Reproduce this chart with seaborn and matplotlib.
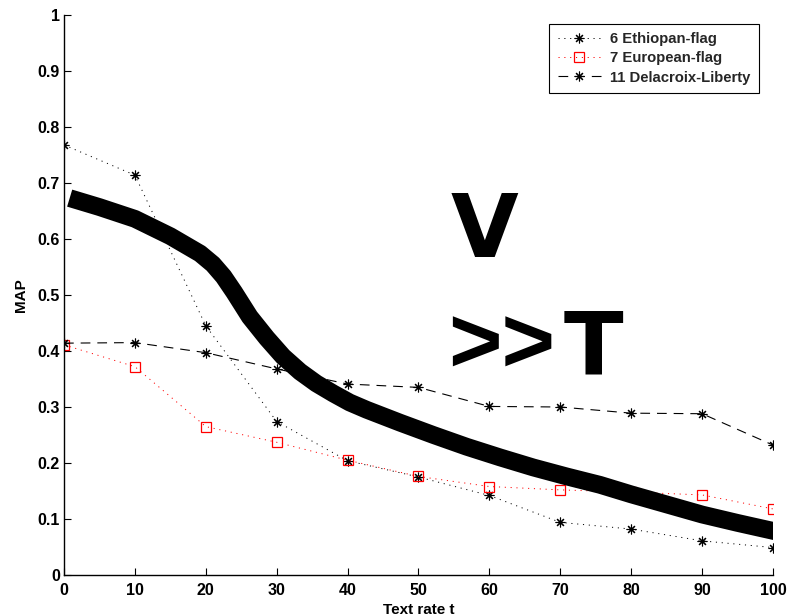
import matplotlib
matplotlib.use("Agg")
import matplotlib.pyplot as plt
import seaborn as sns

# Text rate values and MAP for each query image
text_rate = [0, 10, 20, 30, 40, 50, 60, 70, 80, 90, 100]
map_ethiopian = [0.768, 0.714, 0.445, 0.274, 0.204, 0.175, 0.142, 0.094, 0.082, 0.061, 0.049]
map_european = [0.411, 0.372, 0.265, 0.237, 0.205, 0.176, 0.158, 0.152, 0.148, 0.143, 0.118]
map_delacroix = [0.414, 0.415, 0.397, 0.368, 0.341, 0.335, 0.301, 0.300, 0.289, 0.288, 0.232]

series_labels = ["6 Ethiopan-flag", "7 European-flag", "11 Delacroix-Liberty"]

# Hand-drawn trend stroke
trend_x = [0.8, 5, 10, 15, 19.2, 21, 22.5, 24, 26.2, 28.6, 30.9, 33.3, 35.6, 38, 40.3, 42.7,
           47.4, 52.1, 56.8, 61.5, 66.2, 70.9, 75.6, 80, 85, 90, 95, 101]
trend_y = [0.673, 0.657, 0.636, 0.605, 0.574, 0.555, 0.533, 0.505, 0.461, 0.423, 0.390,
           0.363, 0.342, 0.324, 0.308, 0.295, 0.272, 0.250, 0.229, 0.210, 0.192, 0.176,
           0.161, 0.144, 0.126, 0.108, 0.093, 0.076]

x_ticks = [0, 10, 20, 30, 40, 50, 60, 70, 80, 90, 100]
y_ticks = [0, 0.1, 0.2, 0.3, 0.4, 0.5, 0.6, 0.7, 0.8, 0.9, 1.0]
y_tick_labels = ["0", "0.1", "0.2", "0.3", "0.4", "0.5", "0.6", "0.7", "0.8", "0.9", "1"]

sns.set_theme(style="ticks")
plt.rcParams["font.family"] = ["Liberation Sans", "DejaVu Sans"]
plt.rcParams["font.weight"] = "bold"
plt.rcParams["lines.scale_dashes"] = False

W, H = 789, 616
fig = plt.figure(figsize=(W / 100, H / 100), dpi=100)
ax = fig.add_axes([64 / W, 1 - 575 / H, 709 / W, 560 / H])

asterisk = (8, 2, 0)

sns.lineplot(x=text_rate, y=map_ethiopian, ax=ax, color="black", lw=0.7,
             linestyle=(0, (0.8, 3.4)), marker=asterisk, markersize=7,
             markeredgecolor="black", markeredgewidth=0.8, label=series_labels[0])
sns.lineplot(x=text_rate, y=map_european, ax=ax, color="red", lw=0.7,
             linestyle=(0, (0.8, 3.4)), marker="s", markersize=6.5,
             markerfacecolor="none", markeredgecolor="red", markeredgewidth=0.9,
             label=series_labels[1])
sns.lineplot(x=text_rate, y=map_delacroix, ax=ax, color="black", lw=0.8,
             linestyle=(0, (7, 5)), marker=asterisk, markersize=7,
             markeredgecolor="black", markeredgewidth=0.8, label=series_labels[2])

ax.plot(trend_x, trend_y, color="black", lw=12.8, solid_capstyle="butt",
        solid_joinstyle="round", zorder=5)

def px_to_x(px):
    return (px - 64) / 709 * 100

def py_to_y(py):
    return (575 - py) / 560

ax.text(px_to_x(451), py_to_y(257), "V", fontsize=63, fontweight="bold",
        family="DejaVu Sans", ha="left", va="baseline", color="black", zorder=6)
ax.text(px_to_x(448), py_to_y(373), ">>", fontsize=66, fontweight="bold",
        family="Liberation Sans", ha="left", va="baseline", color="black", zorder=6)
ax.text(px_to_x(564), py_to_y(373), "T", fontsize=63, fontweight="bold",
        family="DejaVu Sans", ha="left", va="baseline", color="black", zorder=6)

ax.set_xlim(0, 100)
ax.set_ylim(0, 1)
ax.set_xticks(x_ticks)
ax.set_xticklabels([str(v) for v in x_ticks])
ax.set_yticks(y_ticks)
ax.set_yticklabels(y_tick_labels)
ax.tick_params(axis="both", direction="in", length=5, width=0.8, color="black",
               labelsize=11.5, labelcolor="black")
ax.tick_params(axis="x", pad=6)
ax.tick_params(axis="y", pad=3)
for lab in ax.get_xticklabels() + ax.get_yticklabels():
    lab.set_fontweight("bold")

ax.set_xlabel("Text rate t", fontsize=11, fontweight="bold", labelpad=3, color="black")
ax.set_ylabel("MAP", fontsize=11, fontweight="bold", labelpad=7, color="black")

ax.spines["top"].set_visible(False)
ax.spines["right"].set_visible(False)
for s in ("left", "bottom"):
    ax.spines[s].set_color("black")
    ax.spines[s].set_linewidth(1.0)
ax.set_facecolor("white")
fig.patch.set_facecolor("white")

leg = ax.legend(loc="upper right", bbox_to_anchor=(0.980, 0.984), borderaxespad=0,
                frameon=True, fancybox=False, shadow=False, framealpha=1,
                edgecolor="black", fontsize=10.7, numpoints=1, handlelength=2.95,
                handletextpad=0.6, labelspacing=0.35, borderpad=0.55)
leg.get_frame().set_linewidth(0.8)
for t in leg.get_texts():
    t.set_fontweight("bold")

fig.savefig("out.png", dpi=100)
